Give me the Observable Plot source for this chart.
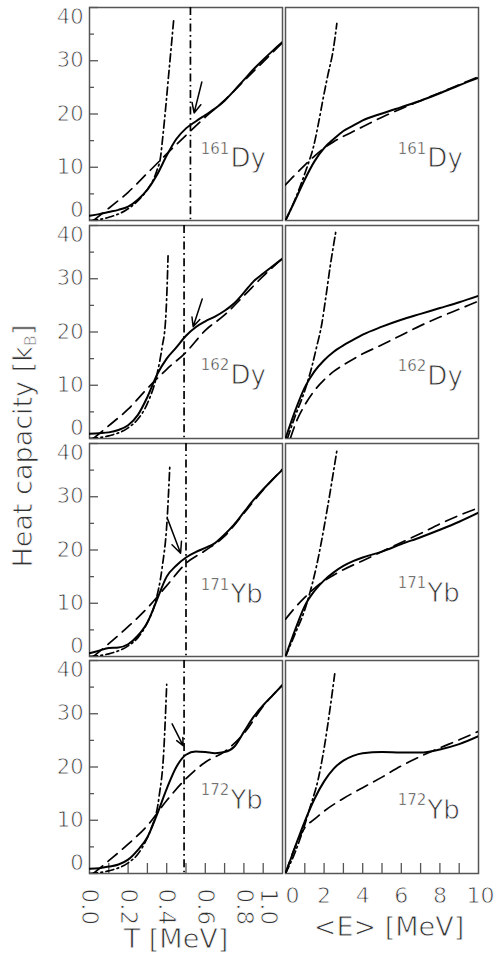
<!DOCTYPE html>
<html><head><meta charset="utf-8">
<script src="https://cdn.jsdelivr.net/npm/d3@7"></script>
<script src="https://cdn.jsdelivr.net/npm/@observablehq/plot@0.6"></script>
<style>
html,body{margin:0;padding:0;background:#fff;}
#chart{position:relative;width:494px;height:954px;overflow:hidden;font-family:"DejaVu Sans",sans-serif;}
#chart svg{position:absolute;}
#ytitle{position:absolute;left:24px;top:446px;transform:translate(-50%,-50%) rotate(-90deg);white-space:nowrap;font-size:27px;line-height:1;color:#333;-webkit-text-stroke:0.8px #fff;}
#ytitle sub{font-size:0.6em;vertical-align:-0.2em;}
</style></head><body>
<div id="chart"><div id="ytitle">Heat capacity [k<sub>B</sub>]</div></div>
<script>
// ---------- data ----------
const massNumbers = ["161", "162", "171", "172"];
const elements = ["Dy", "Dy", "Yb", "Yb"];

// left column: C(T)
const tGrid = [0,0.05,0.1,0.15,0.2,0.25,0.3,0.35,0.4,0.45,0.5,0.55,0.6,0.65,0.7,0.75,0.8,0.85,0.9,0.95,1.0];
const dy161_solidT = [0.9,1.2,1.6,2.0,2.6,3.9,5.8,8.6,12.2,15.3,17.3,18.6,19.8,21.0,22.5,24.4,26.4,28.4,30.2,31.9,33.5];
const dy162_solidT = [0.9,1.0,1.15,1.6,2.5,4.4,7.8,12.0,15.0,17.1,19.3,20.9,22.0,22.9,24.0,25.4,27.4,29.5,31.0,32.4,33.8];
const yb171_solidT = [0.6,1.1,1.6,1.7,2.3,3.9,6.4,10.7,15.0,17.1,18.6,19.6,20.4,21.3,22.9,24.8,27.1,29.4,31.4,33.3,35.1];
const yb172_solidT = [0.9,1.0,1.3,1.7,2.6,4.4,6.8,11.1,15.9,20.0,22.3,22.9,22.8,22.6,22.8,23.8,26.6,29.4,31.6,33.5,35.4];

const dashTGrid = [0.02,0.1,0.2,0.3,0.4,0.5,0.6,0.7,0.8,0.9,1.0];
const dy161_dashT = [0,2.3,5.3,8.9,12.5,16.0,19.4,22.6,26.2,29.8,33.4];
const dy162_dashT = [0,2.4,5.5,9.4,13.0,16.2,20.3,23.2,26.8,30.5,33.8];
const yb171_dashT = [0,2.4,5.6,9.1,13.3,17.5,19.9,22.6,26.9,31.3,35.2];
const yb172_dashT = [0,2.4,5.5,9.0,13.7,17.8,20.9,22.9,26.3,31.4,35.4];

const dy161_ddT_x = [0,0.1,0.2,0.25,0.3,0.33,0.35,0.368,0.38,0.395,0.41,0.425,0.437];
const dy161_ddT   = [0,0.6,2.2,3.7,5.8,7.6,9.5,11.9,15.8,21.3,27.3,33.2,38.0];
const dy162_ddT_x = [0,0.1,0.2,0.25,0.3,0.35,0.376,0.394,0.402,0.407];
const dy162_ddT   = [0,0.5,2.0,3.6,6.6,12.1,17.1,22.1,28.4,34.3];
const yb171_ddT_x = [0,0.1,0.2,0.25,0.3,0.342,0.376,0.402,0.416];
const yb171_ddT   = [0,0.5,2.0,3.5,6.4,10.3,16.6,25.6,35.7];
const yb172_ddT_x = [0,0.1,0.2,0.25,0.29,0.316,0.36,0.385,0.4];
const yb172_ddT   = [0,0.5,2.0,3.6,6.0,8.1,14.3,23.1,35.5];

const criticalT = [0.523, 0.49, 0.50, 0.49];
const arrowT1 = [0.582, 0.584, 0.405, 0.428];
const arrowC1 = [26.0, 26.2, 25.8, 28.1];
const arrowT2 = [0.542, 0.537, 0.472, 0.485];
const arrowC2 = [20.2, 21.0, 19.4, 24.0];

// right column: C(<E>)
const eGrid = [0,0.5,1,1.5,2,2.5,3,3.5,4,5,6,7,8,9,10];
const dy161_solidE = [0,3.8,7.7,11.1,13.6,15.3,16.8,17.8,18.8,20.1,21.3,22.5,23.9,25.4,26.8];
const dy162_solidE = [0,5.2,9.6,12.6,14.7,16.3,17.5,18.5,19.5,21.0,22.3,23.4,24.5,25.6,26.8];
const yb171_solidE = [0,5.0,9.5,12.3,14.3,15.8,17.0,17.9,18.6,19.7,21.1,22.4,23.8,25.3,27.0];
const yb172_solidE = [0,5.0,9.8,14.0,17.3,19.7,21.2,22.1,22.6,22.8,22.7,22.7,23.3,24.3,25.8];

const dy161_dashE_x = [0,0.5,1,1.5,2,2.5,3,3.5,4,5,6,7,8,9,10];
const dy161_dashE   = [6.7,8.6,10.4,12.1,13.6,14.8,15.8,16.7,17.6,19.4,21.0,22.5,24.0,25.5,27.0];
const dy162_dashE_x = [0.25,0.6,1,1.5,2,2.5,3,4,5,6,7,8,9,10];
const dy162_dashE   = [0,3.5,6.3,9.0,11.0,12.6,13.8,15.9,17.6,19.4,21.2,22.8,24.3,25.8];
const yb171_dashE_x = [0,0.5,1,1.5,2,2.5,3,4,5,6,7,8,9,10];
const yb171_dashE   = [7.0,9.2,11.1,12.8,14.2,15.3,16.3,18.0,19.7,21.4,23.1,24.9,26.5,27.9];
const yb172_dashE_x = [0,0.5,1,1.5,2,3,4,5,6,7,8,9,10];
const yb172_dashE   = [0,5.0,8.6,10.2,11.7,14.1,16.1,18.1,20.2,22.0,23.6,25.1,26.7];

const dy161_ddE_x = [0,0.5,0.8,1.0,1.2,1.44,1.7,1.96,2.2,2.48,2.66];
const dy161_ddE   = [0,4.0,6.8,8.8,10.9,13.7,18.1,23.1,27.4,32.2,37.0];
const dy162_ddE_x = [0.1,0.5,1.0,1.36,1.6,1.88,2.1,2.31,2.6];
const dy162_ddE   = [0,4.2,9.0,13.4,17.0,21.5,26.8,32.2,38.7];
const yb171_ddE_x = [0,0.5,1.0,1.18,1.62,2.14,2.4,2.66];
const yb171_ddE   = [0,4.3,8.8,10.9,17.2,27.2,32.8,38.6];
const yb172_ddE_x = [0,0.5,0.84,1.27,1.7,2.0,2.31,2.55];
const yb172_ddE   = [0,4.0,7.4,12.4,17.8,23.5,31.0,37.5];

// labels
const labelT_x = 0.73, labelT_y = [11.6, 11.8, 11.6, 13.7];
const labelE_x = 7.35, labelE_y = [11.6, 11.7, 11.8, 11.8];

// ticks
const yMajor = [0,10,20,30,40];
const yMinor = [5,15,25,35];
const yLabelsMid = [10,20,30];
const xTicksT = [0.1,0.2,0.3,0.4,0.5,0.6,0.7,0.8,0.9];
const xLabelsT = [0.0,0.2,0.4,0.6,0.8];
const xLabelLastT = [1.0];
const xTicksE = [1,2,3,4,5,6,7,8,9];
const xLabelsE = [2,4,6,8];

// ---------- build ----------
const pts = (xs, ys) => xs.map((x, i) => ({x, y: ys[i]}));
const leftData = [
  {s: dy161_solidT, d: [dashTGrid, dy161_dashT], dd: [dy161_ddT_x, dy161_ddT]},
  {s: dy162_solidT, d: [dashTGrid, dy162_dashT], dd: [dy162_ddT_x, dy162_ddT]},
  {s: yb171_solidT, d: [dashTGrid, yb171_dashT], dd: [yb171_ddT_x, yb171_ddT]},
  {s: yb172_solidT, d: [dashTGrid, yb172_dashT], dd: [yb172_ddT_x, yb172_ddT]}
];
const rightData = [
  {s: dy161_solidE, d: [dy161_dashE_x, dy161_dashE], dd: [dy161_ddE_x, dy161_ddE]},
  {s: dy162_solidE, d: [dy162_dashE_x, dy162_dashE], dd: [dy162_ddE_x, dy162_ddE]},
  {s: yb171_solidE, d: [yb171_dashE_x, yb171_dashE], dd: [yb171_ddE_x, yb171_ddE]},
  {s: yb172_solidE, d: [yb172_dashE_x, yb172_dashE], dd: [yb172_ddE_x, yb172_ddE]}
];

const FONT = "DejaVu Sans";
const TXT = "#333";
const thin = {fontFamily: FONT, fill: TXT, stroke: "white", strokeWidth: 0.8, paintOrder: "fill"};
const W = 193, H = 213;
const frameTops = [7, 225, 443, 660];
const DASHDOT = "8,3.5,1.6,3.5";
const chart = document.getElementById("chart");

for (let row = 0; row < 4; row++) {
  for (let col = 0; col < 2; col++) {
    const isLeft = col === 0, isBottom = row === 3;
    const ml = isLeft ? 89 : 4, mr = isLeft ? 4 : 16, mt = 8, mb = isBottom ? 85 : 6;
    const D = isLeft ? leftData[row] : rightData[row];
    const xs = isLeft ? tGrid : eGrid;
    const marks = [];
    marks.push(Plot.frame({stroke: "#555", strokeWidth: 1.5}));
    if (isLeft) {
      marks.push(Plot.tickY(yMajor, {y: d => d, stroke: "#555", strokeWidth: 1.3, insetRight: W - 9}));
      marks.push(Plot.tickY(yMinor, {y: d => d, stroke: "#555", strokeWidth: 1.3, insetRight: W - 5}));
      const tf = {frameAnchor: "left", textAnchor: "end", lineAnchor: "middle", dx: -6, fontSize: 21, ...thin};
      marks.push(Plot.text(yLabelsMid, {y: d => d, text: d => String(d), ...tf}));
      marks.push(Plot.text([0], {y: d => d, text: d => String(d), ...tf, dy: -10}));
      marks.push(Plot.text([40], {y: d => d, text: d => String(d), ...tf, dy: 10}));
    }
    if (isBottom) {
      marks.push(Plot.tickX(isLeft ? xTicksT : xTicksE, {x: d => d, stroke: "#555", strokeWidth: 1.3, insetTop: H - 10}));
      if (isLeft) {
        const rf = {frameAnchor: "bottom", rotate: 90, textAnchor: "start", lineAnchor: "middle", dy: 15, fontSize: 23, ...thin};
        marks.push(Plot.text(xLabelsT, {x: d => d, text: d => d.toFixed(1), ...rf}));
        marks.push(Plot.text(xLabelLastT, {x: d => d, text: d => d.toFixed(1), ...rf, dx: -14}));
        marks.push(Plot.text(["T [MeV]"], {frameAnchor: "bottom", lineAnchor: "middle", text: d => d, dx: -10, dy: 66, fontSize: 27, ...thin}));
      } else {
        const hf = {frameAnchor: "bottom", lineAnchor: "middle", dy: 22, fontSize: 22, ...thin};
        marks.push(Plot.text(xLabelsE, {x: d => d, text: d => String(d), ...hf}));
        marks.push(Plot.text([0], {x: d => d, text: d => String(d), ...hf, dx: 7}));
        marks.push(Plot.text([10], {x: d => d, text: d => String(d), ...hf, dx: 2}));
        marks.push(Plot.text(["<E> [MeV]"], {frameAnchor: "bottom", lineAnchor: "middle", text: d => d, dx: 7, dy: 54, fontSize: 27, ...thin}));
      }
    }
    // curves
    marks.push(Plot.line(pts(D.dd[0], D.dd[1]), {x: "x", y: "y", curve: "monotone-x", stroke: "black", strokeWidth: 1.7, strokeDasharray: DASHDOT, clip: true}));
    marks.push(Plot.line(pts(D.d[0], D.d[1]), {x: "x", y: "y", curve: "monotone-x", stroke: "black", strokeWidth: 1.7, strokeDasharray: "12,7", clip: true}));
    marks.push(Plot.line(pts(xs, D.s), {x: "x", y: "y", curve: "monotone-x", stroke: "black", strokeWidth: 2, clip: true}));
    if (isLeft) {
      marks.push(Plot.ruleX([criticalT[row]], {x: d => d, stroke: "black", strokeWidth: 1.7, strokeDasharray: DASHDOT}));
      marks.push(Plot.arrow([row], {x1: i => arrowT1[i], y1: i => arrowC1[i], x2: i => arrowT2[i], y2: i => arrowC2[i], stroke: "black", strokeWidth: 1.5, headLength: 12, headAngle: 50}));
    }
    // nucleus label
    const lx = isLeft ? labelT_x : labelE_x;
    const ly = isLeft ? labelT_y[row] : labelE_y[row];
    marks.push(Plot.text([row], {x: () => lx, y: () => ly, text: i => elements[i], textAnchor: "start", lineAnchor: "middle", fontSize: 26, ...thin}));
    marks.push(Plot.text([row], {x: () => lx, y: () => ly, text: i => massNumbers[i], textAnchor: "end", lineAnchor: "middle", dx: -1, dy: -10, fontSize: 15, ...thin, strokeWidth: 0.5}));

    const svg = Plot.plot({
      width: ml + W + mr, height: mt + H + mb,
      marginLeft: ml, marginRight: mr, marginTop: mt, marginBottom: mb,
      x: {domain: isLeft ? [0, 1] : [0, 10], axis: null},
      y: {domain: [0, 40], axis: null},
      style: {background: "transparent", overflow: "visible", fontFamily: FONT, maxWidth: "none"},
      marks
    });
    svg.style.left = (isLeft ? 0 : 281) + "px";
    svg.style.top = (frameTops[row] - mt) + "px";
    chart.appendChild(svg);
  }
}
</script>
</body></html>
